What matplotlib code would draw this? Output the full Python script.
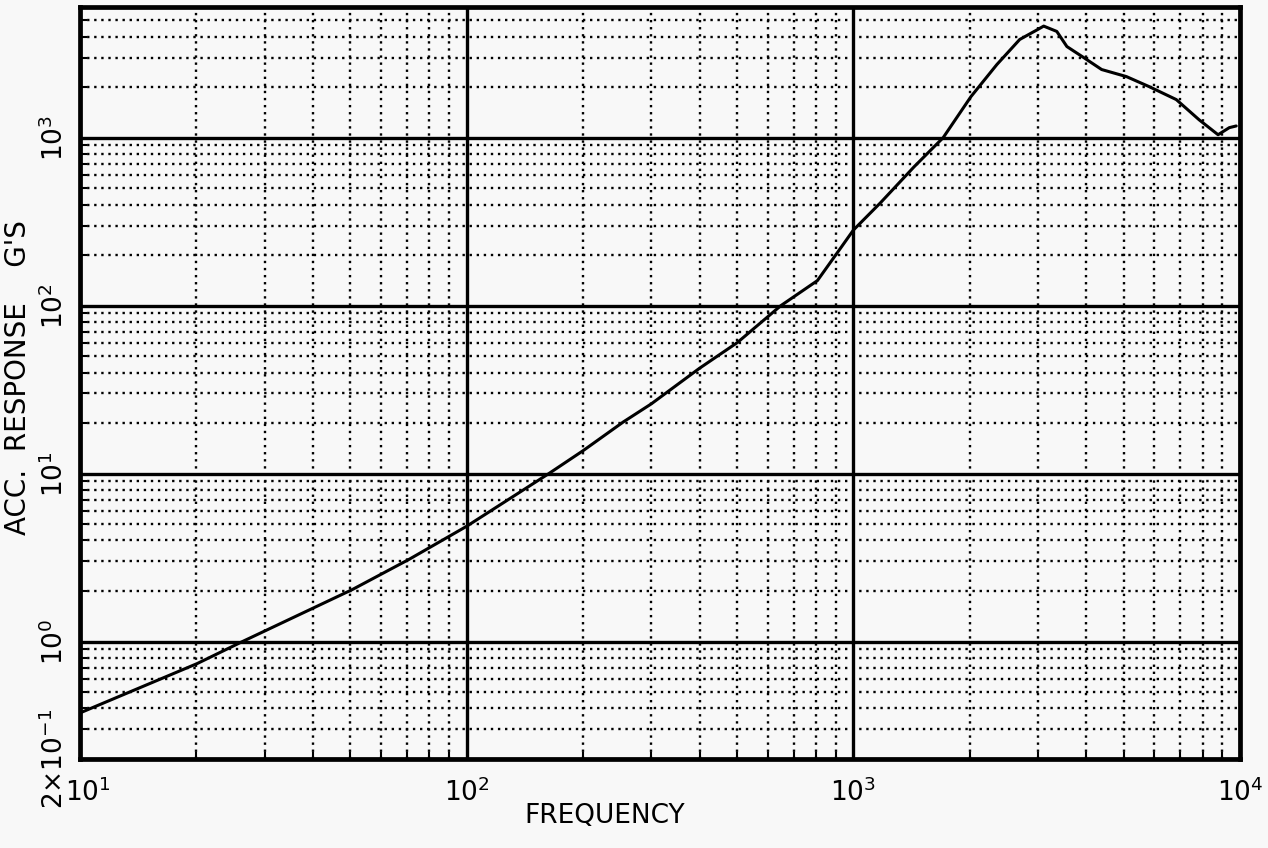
import matplotlib
matplotlib.use("Agg")
import matplotlib.pyplot as plt
from matplotlib.ticker import LogLocator, NullFormatter, FixedLocator
from matplotlib.transforms import ScaledTranslation

# Acceleration response vs. frequency
freq = [10, 20.1, 26.3, 50.6, 71, 100, 163, 200, 254, 300, 400, 501, 649,
        807, 925, 1000, 1175, 1435, 1706, 2014, 2350, 2692, 3000, 3105,
        3357, 3565, 3936, 4385, 5082, 5821, 6839, 7834, 8770, 9376, 9770]
acc = [0.376, 0.74, 1.0, 2.04, 3.09, 4.86, 10.0, 13.7, 20.3, 26.0, 42.4,
       60.3, 100, 141, 219, 282, 410, 671, 1000, 1758, 2729, 3846, 4416,
       4620, 4295, 3491, 3006, 2547, 2312, 2014, 1687, 1279, 1042, 1148, 1175]

x_ticks = [10, 100, 1000, 10000]
x_labels = [r"$\mathregular{10^{1}}$", r"$\mathregular{10^{2}}$",
            r"$\mathregular{10^{3}}$", r"$\mathregular{10^{4}}$"]
y_ticks = [0.2, 1, 10, 100, 1000]
y_labels = [r"$\mathregular{2{\times}10^{-1}}$", r"$\mathregular{10^{0}}$",
            r"$\mathregular{10^{1}}$", r"$\mathregular{10^{2}}$",
            r"$\mathregular{10^{3}}$"]

plt.rcParams["font.family"] = ["DejaVu Sans"]
plt.rcParams["mathtext.fontset"] = "dejavusans"

fig = plt.figure(figsize=(12.68, 8.48), dpi=100)
fig.patch.set_facecolor("#f8f8f8")
ax = fig.add_axes([0.0631, 0.105, 0.9149, 0.8867])
ax.set_facecolor("#f8f8f8")

ax.set_xscale("log")
ax.set_yscale("log")
ax.set_xlim(10, 10000)
ax.set_ylim(0.2, 6000)

ax.plot(freq, acc, color="black", lw=2.2, solid_joinstyle="round",
        solid_capstyle="round", zorder=5)

ax.xaxis.set_major_locator(FixedLocator(x_ticks))
ax.yaxis.set_major_locator(FixedLocator(y_ticks))
ax.set_xticklabels(x_labels)
ax.set_yticklabels(y_labels, rotation=90, va="center", ha="center")
ax.xaxis.set_minor_locator(LogLocator(base=10, subs=range(2, 10), numticks=20))
ax.yaxis.set_minor_locator(LogLocator(base=10, subs=range(2, 10), numticks=20))
ax.xaxis.set_minor_formatter(NullFormatter())
ax.yaxis.set_minor_formatter(NullFormatter())

ax.grid(which="major", color="black", lw=2.4, ls="-")
ax.grid(which="minor", color="black", lw=1.7, ls=(0, (1.0, 2.0)))
ax.set_axisbelow(True)

ax.tick_params(which="major", length=0, labelsize=19, colors="black")
ax.tick_params(axis="y", which="major", pad=18)
ax.tick_params(axis="x", which="major", pad=14)
ax.tick_params(which="minor", direction="in", length=5, width=1.5,
               top=False, right=False)

# nudge the first frequency label clear of the rotated corner label
first = ax.get_xticklabels()[0]
first.set_transform(first.get_transform()
                    + ScaledTranslation(6 / 72, 0, fig.dpi_scale_trans))

for s in ax.spines.values():
    s.set_linewidth(3.4)
    s.set_color("black")

fig.text(0.477, 0.022, "FREQUENCY", ha="center", va="bottom", fontsize=19)
fig.text(0.003, 0.555, "ACC.  RESPONSE    G'S", rotation=90, ha="left",
         va="center", fontsize=20)

fig.savefig("out.png", dpi=100, facecolor=fig.get_facecolor())
